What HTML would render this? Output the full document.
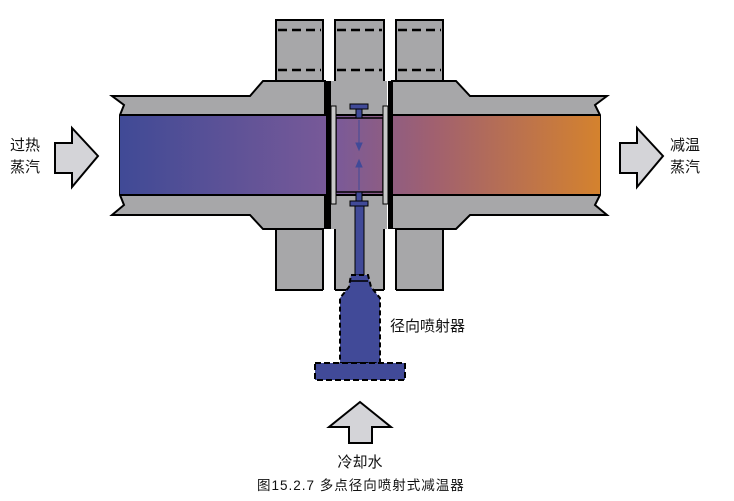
<!DOCTYPE html>
<html><head><meta charset="utf-8"><style>
html,body{margin:0;padding:0;background:#fff;width:734px;height:501px;overflow:hidden}
text{font-family:"Liberation Sans","Noto Sans CJK SC",sans-serif;fill:#111}
</style></head><body>
<svg width="734" height="501" viewBox="0 0 734 501" xmlns="http://www.w3.org/2000/svg">
<defs>
<linearGradient id="g" x1="120" x2="600" y1="0" y2="0" gradientUnits="userSpaceOnUse">
<stop offset="0" stop-color="#404a96"/>
<stop offset="0.45" stop-color="#7a5a98"/>
<stop offset="0.65" stop-color="#a06070"/>
<stop offset="1" stop-color="#d4822e"/>
</linearGradient>
</defs>
<g stroke="#000" stroke-width="2" fill="#a7a7a9">
<rect x="276" y="20" width="47" height="270"/>
<rect x="335" y="20" width="49" height="270"/>
<rect x="396" y="20" width="47" height="270"/>
<path d="M112,96 L250,96 L263,81 L325,81 L325,229 L263,229 L250,215 L112,215 L124,205 L120,195 L120,115 L124,105 Z"/>
<path d="M607,96 L470,96 L456,81 L392,81 L392,229 L456,229 L470,215 L607,215 L595,205 L600,195 L600,115 L595,105 Z"/>
<rect x="331" y="81" width="56" height="148" stroke="none"/>
</g>
<g stroke="#000" stroke-width="2.5" stroke-dasharray="9,5" fill="none">
<line x1="278" y1="30" x2="321" y2="30"/><line x1="278" y1="70" x2="321" y2="70"/>
<line x1="337" y1="30" x2="382" y2="30"/><line x1="337" y1="70" x2="382" y2="70"/>
<line x1="398" y1="30" x2="441" y2="30"/><line x1="398" y1="70" x2="441" y2="70"/>
</g>
<rect x="120" y="115" width="480" height="80" fill="url(#g)"/>
<line x1="120" y1="115" x2="600" y2="115" stroke="#000" stroke-width="2"/>
<line x1="120" y1="195" x2="600" y2="195" stroke="#000" stroke-width="2"/>
<rect x="336" y="118" width="47" height="74" fill="url(#g)" stroke="#000" stroke-width="1.5"/>
<rect x="323" y="229" width="12" height="62" fill="#fff"/>
<rect x="384" y="229" width="12" height="62" fill="#fff"/>
<line x1="323" y1="229" x2="323" y2="290" stroke="#000" stroke-width="2"/>
<line x1="335" y1="229" x2="335" y2="290" stroke="#000" stroke-width="2"/>
<line x1="384" y1="229" x2="384" y2="290" stroke="#000" stroke-width="2"/>
<line x1="396" y1="229" x2="396" y2="290" stroke="#000" stroke-width="2"/>
<rect x="326" y="81" width="5" height="148" fill="#000"/>
<rect x="388" y="81" width="5" height="148" fill="#000"/>
<rect x="331" y="106" width="5" height="98" fill="#c8c8c8" stroke="#000"/>
<rect x="383" y="106" width="5" height="98" fill="#c8c8c8" stroke="#000"/>
<g fill="#414a98" stroke="#000" stroke-width="1">
<rect x="350" y="104" width="18" height="5"/>
<rect x="356" y="109" width="6" height="9"/>
<rect x="356" y="192" width="6" height="9"/>
<rect x="350" y="201" width="18" height="5"/>
<path d="M355,206 L364,206 L364,275 L355,275 Z"/>
<path d="M351,275 L368,275 L371,287 L380,298 L380,363 L340,363 L340,298 L349,287 Z" stroke-dasharray="5,3" stroke-width="2"/>
<rect x="315" y="363" width="90" height="17" stroke-dasharray="6,3" stroke-width="2"/>
</g>
<line x1="351" y1="281" x2="368" y2="281" stroke="#000" stroke-width="1.5"/>
<g stroke="#414a98" fill="#414a98" stroke-width="1">
<line x1="359" y1="120" x2="359" y2="150"/><path d="M356,143 L362,143 L359,150 Z"/>
<line x1="359" y1="160" x2="359" y2="190"/><path d="M356,167 L362,167 L359,160 Z"/>
</g>
<g fill="#d4d4d8" stroke="#000" stroke-width="2">
<path d="M55,143 L72,143 L72,128 L98,156 L72,187 L72,173 L55,173 Z"/>
<path d="M620,143 L637,143 L637,128 L663,156 L637,187 L637,173 L620,173 Z"/>
<path d="M349,443 L372,443 L372,427 L391,427 L360,402 L329,427 L349,427 Z"/>
</g>
<text x="10" y="150" font-size="15">过热</text>
<text x="10" y="172" font-size="15">蒸汽</text>
<text x="670" y="150" font-size="15">减温</text>
<text x="670" y="172" font-size="15">蒸汽</text>
<text x="390" y="331" font-size="15">径向喷射器</text>
<text x="360" y="467" font-size="15" text-anchor="middle">冷却水</text>
<text x="257" y="490" font-size="13.5" letter-spacing="1">图15.2.7  多点径向喷射式减温器</text>
</svg>
</body></html>
